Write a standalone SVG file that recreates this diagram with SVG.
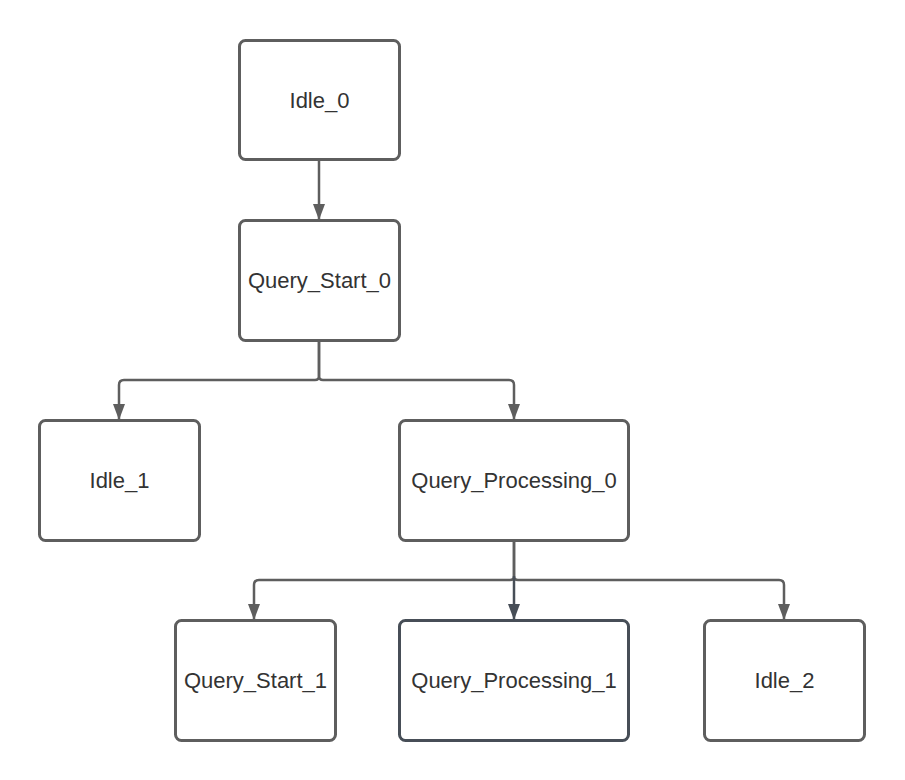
<svg xmlns="http://www.w3.org/2000/svg" width="905" height="780" viewBox="0 0 905 780">
<defs>
<style>
.box{fill:#ffffff;stroke:#5e5e5e;stroke-width:3}
.dark{stroke:#474e57}
.lbl{font-family:"Liberation Sans",Arial,sans-serif;font-size:22px;fill:#333333;text-anchor:middle;dominant-baseline:central}
.con{fill:none;stroke:#5e5e5e;stroke-width:2.5}
</style>
<marker id="ah" markerWidth="16" markerHeight="12" refX="15" refY="6" orient="auto" markerUnits="userSpaceOnUse" viewBox="0 0 16 12">
<path d="M0,0 L16,6 L0,12 Z" fill="#5e5e5e"/>
</marker>
<marker id="ahd" markerWidth="16" markerHeight="12" refX="15" refY="6" orient="auto" markerUnits="userSpaceOnUse" viewBox="0 0 16 12">
<path d="M0,0 L16,6 L0,12 Z" fill="#474e57"/>
</marker>
</defs>
<rect width="905" height="780" fill="#ffffff"/>
<g id="connectors">
<path class="con" d="M319,160 V219" marker-end="url(#ah)"/>
<path class="con" d="M319,341 V376 Q319,380 315,380 H124 Q119,380 119,385 V419" marker-end="url(#ah)"/>
<path class="con" d="M319,341 V376 Q319,380 323,380 H509 Q514,380 514,385 V419" marker-end="url(#ah)"/>
<path class="con" d="M514,541 V576 Q514,580 510,580 H259 Q254,580 254,585 V619" marker-end="url(#ah)"/>
<path class="con" d="M514,541 V576 Q514,580 518,580 H779 Q784,580 784,585 V619" marker-end="url(#ah)"/>
<path class="con" style="stroke:#474e57" d="M514,576 V619" marker-end="url(#ahd)"/>
</g>
<g id="idle_0"><rect class="box" x="239.5" y="40.5" width="160" height="119" rx="6"/><text class="lbl" x="319.5" y="100">Idle_0</text></g>
<g id="query_start_0"><rect class="box" x="239.5" y="220.5" width="160" height="120" rx="6"/><text class="lbl" x="319.5" y="280">Query_Start_0</text></g>
<g id="idle_1"><rect class="box" x="39.5" y="420.5" width="160" height="120" rx="6"/><text class="lbl" x="119.5" y="480">Idle_1</text></g>
<g id="query_processing_0"><rect class="box" x="399.5" y="420.5" width="229" height="120" rx="6"/><text class="lbl" x="514" y="480">Query_Processing_0</text></g>
<g id="query_start_1"><rect class="box" x="175.5" y="620.5" width="160" height="120" rx="6"/><text class="lbl" x="255.5" y="680">Query_Start_1</text></g>
<g id="query_processing_1"><rect class="box dark" x="399.5" y="620.5" width="229" height="120" rx="6"/><text class="lbl" x="514" y="680">Query_Processing_1</text></g>
<g id="idle_2"><rect class="box" x="704.5" y="620.5" width="160" height="120" rx="6"/><text class="lbl" x="784.5" y="680">Idle_2</text></g>
</svg>
